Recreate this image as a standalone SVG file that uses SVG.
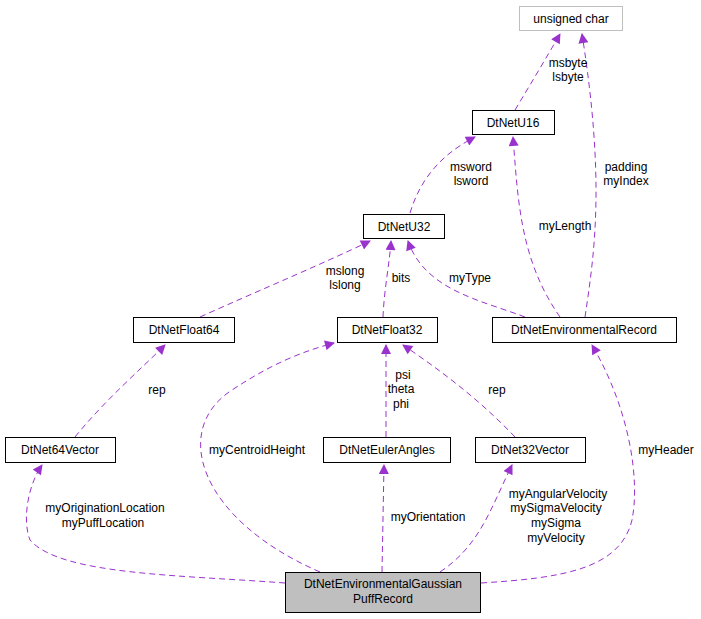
<svg xmlns="http://www.w3.org/2000/svg" width="701" height="619" viewBox="0 0 701 619">
<style>
.n rect{fill:#fff;stroke:#000;stroke-width:1}
.g rect{stroke:#bfbfbf}
.p rect{fill:#bfbfbf}
text{font-family:"Liberation Sans",Arial,sans-serif;font-size:12px;fill:#000;text-anchor:middle}
.e path{fill:none;stroke:#9a32cd;stroke-width:1;stroke-dasharray:6,4;marker-end:url(#a)}
</style>
<defs><marker id="a" viewBox="0 0 10 10" refX="9" refY="5" markerWidth="12" markerHeight="10" markerUnits="userSpaceOnUse" orient="auto"><path d="M0,0L10,5L0,10z" fill="#9a32cd"/></marker></defs>
<rect width="701" height="619" fill="#fff"/>
<g id="edges" class="e">
<path d="M515,110 C530,85 545,60 560,34"/>
<path d="M585,317 C595,250 605,180 582,34"/>
<path d="M410,213 C420,180 440,155 475,137"/>
<path d="M560,317 C520,260 518,200 513,137"/>
<path d="M525,317 C480,300 425,290 408,241"/>
<path d="M200,317 C260,290 320,265 370,241"/>
<path d="M383,317 C384,290 390,260 391,241"/>
<path d="M386,437 L386,345"/>
<path d="M515,437 C480,400 440,370 403,345"/>
<path d="M75,437 C105,400 140,370 165,345"/>
<path d="M320,572 C200,520 170,430 232,390 C270,365 300,352 334,343"/>
<path d="M382,572 L384,465"/>
<path d="M440,572 C480,545 490,510 512,465"/>
<path d="M285,583 C180,575 60,575 30,540 C22,520 28,485 42,465"/>
<path d="M481,583 C560,578 620,570 632,520 C640,480 630,410 592,345"/>
</g>
<g id="unsigned_char" class="n g"><rect x="519.5" y="6.5" width="103" height="24"/><text x="571" y="23">unsigned char</text></g>
<g id="DtNetU16" class="n"><rect x="472.5" y="110.5" width="82" height="24"/><text x="513" y="127">DtNetU16</text></g>
<g id="DtNetU32" class="n"><rect x="363.5" y="214.5" width="81" height="24"/><text x="404" y="231">DtNetU32</text></g>
<g id="DtNetFloat64" class="n"><rect x="133.5" y="317.5" width="101" height="25"/><text x="184" y="334">DtNetFloat64</text></g>
<g id="DtNetFloat32" class="n"><rect x="337.5" y="317.5" width="100" height="25"/><text x="387" y="334">DtNetFloat32</text></g>
<g id="DtNetEnvironmentalRecord" class="n"><rect x="492.5" y="317.5" width="184" height="25"/><text x="584" y="334">DtNetEnvironmentalRecord</text></g>
<g id="DtNet64Vector" class="n"><rect x="5.5" y="437.5" width="110" height="25"/><text x="60" y="454">DtNet64Vector</text></g>
<g id="DtNetEulerAngles" class="n"><rect x="323.5" y="437.5" width="127" height="25"/><text x="387" y="454">DtNetEulerAngles</text></g>
<g id="DtNet32Vector" class="n"><rect x="475.5" y="437.5" width="110" height="25"/><text x="530" y="454">DtNet32Vector</text></g>
<g id="DtNetEnvironmentalGaussianPuffRecord" class="n p"><rect x="285.5" y="572.5" width="195" height="40"/><text x="383" y="588">DtNetEnvironmentalGaussian</text><text x="383" y="603">PuffRecord</text></g>
<g id="labels">
<text x="568" y="67">msbyte</text><text x="568" y="81">lsbyte</text>
<text x="626" y="171">padding</text><text x="626" y="185">myIndex</text>
<text x="471" y="171">msword</text><text x="471" y="185">lsword</text>
<text x="565" y="230">myLength</text>
<text x="470" y="282">myType</text>
<text x="345" y="275">mslong</text><text x="345" y="289">lslong</text>
<text x="401" y="282">bits</text>
<text x="403" y="379">psi</text><text x="401" y="393">theta</text><text x="401" y="408">phi</text>
<text x="497" y="394">rep</text>
<text x="157" y="394">rep</text>
<text x="257" y="454">myCentroidHeight</text>
<text x="428" y="521">myOrientation</text>
<text x="558" y="498">myAngularVelocity</text><text x="556" y="512">mySigmaVelocity</text><text x="556" y="527">mySigma</text><text x="556" y="542">myVelocity</text>
<text x="105" y="512">myOriginationLocation</text><text x="103" y="527">myPuffLocation</text>
<text x="666" y="454">myHeader</text>
</g>
</svg>
